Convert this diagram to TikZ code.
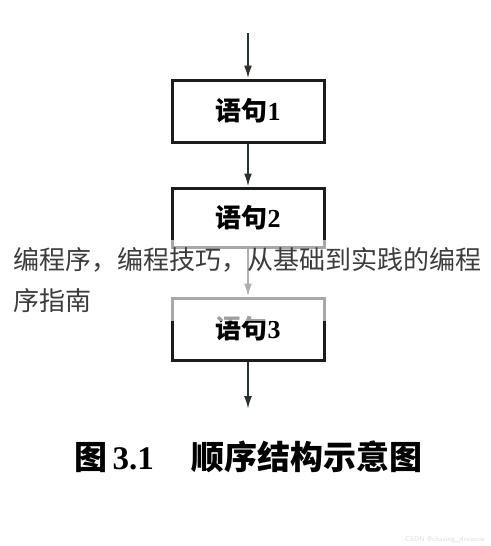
\documentclass[tikz,border=0pt]{standalone}
\usepackage{fontspec}
\setmainfont{Liberation Serif}
\newfontfamily\cjk{Noto Sans CJK SC}
\usetikzlibrary{arrows.meta}
\definecolor{boxline}{HTML}{1C1C1C}
\definecolor{arrowline}{HTML}{2A332C}
\definecolor{overlaytext}{HTML}{3C3C3C}
\tikzset{
  stmt/.style={draw=boxline, line width=3pt, minimum width=152pt, minimum height=60pt, inner sep=0pt,
    font=\fontsize{26}{26}\selectfont\bfseries},
  flow/.style={draw=arrowline, line width=2pt, -{Latex[length=13pt,width=8pt]}},
  overlayline/.style={font=\cjk\fontsize{26}{26}\selectfont, text=overlaytext, anchor=base west, inner sep=0pt},
}
\begin{document}
\begin{tikzpicture}[x=1pt,y=-1pt]
\useasboundingbox[fill=white] (0,0) rectangle (490,546);
\coordinate (start) at (248,33);
\node[stmt, minimum height=62pt] (s1) at (248,111) {{\cjk 语句}1};
\node[stmt, minimum height=59pt] (s2) at (248,217.5) {{\cjk 语句}2};
\node[stmt, minimum height=62pt] (s3) at (248,329) {{\cjk 语句}3};
\coordinate (end) at (248,409);
\draw[flow] (start) -- (s1.north);
\draw[flow] (s1.south) -- (s2.north);
\draw[flow] (s2.south) -- (s3.north);
\draw[flow] (s3.south) -- (end);
\node[font=\fontsize{33}{33}\selectfont\bfseries, anchor=west, inner sep=0pt] (cap) at (74,457)
  {{\cjk 图}\,3.1\hspace{38pt}{\cjk 顺序结构示意图}};
\fill[white, opacity=0.62] (0,240) rectangle (490,321);
\node[overlayline] (ov1) at (13,269) {编程序，编程技巧，从基础到实践的编程};
\node[overlayline] (ov2) at (13,310) {序指南};
\node[font=\sffamily\fontsize{7}{7}\selectfont, text=black!12, anchor=east, inner sep=0pt] (wm) at (485,540) {CSDN @chasing\_dreamss};
\end{tikzpicture}
\end{document}
